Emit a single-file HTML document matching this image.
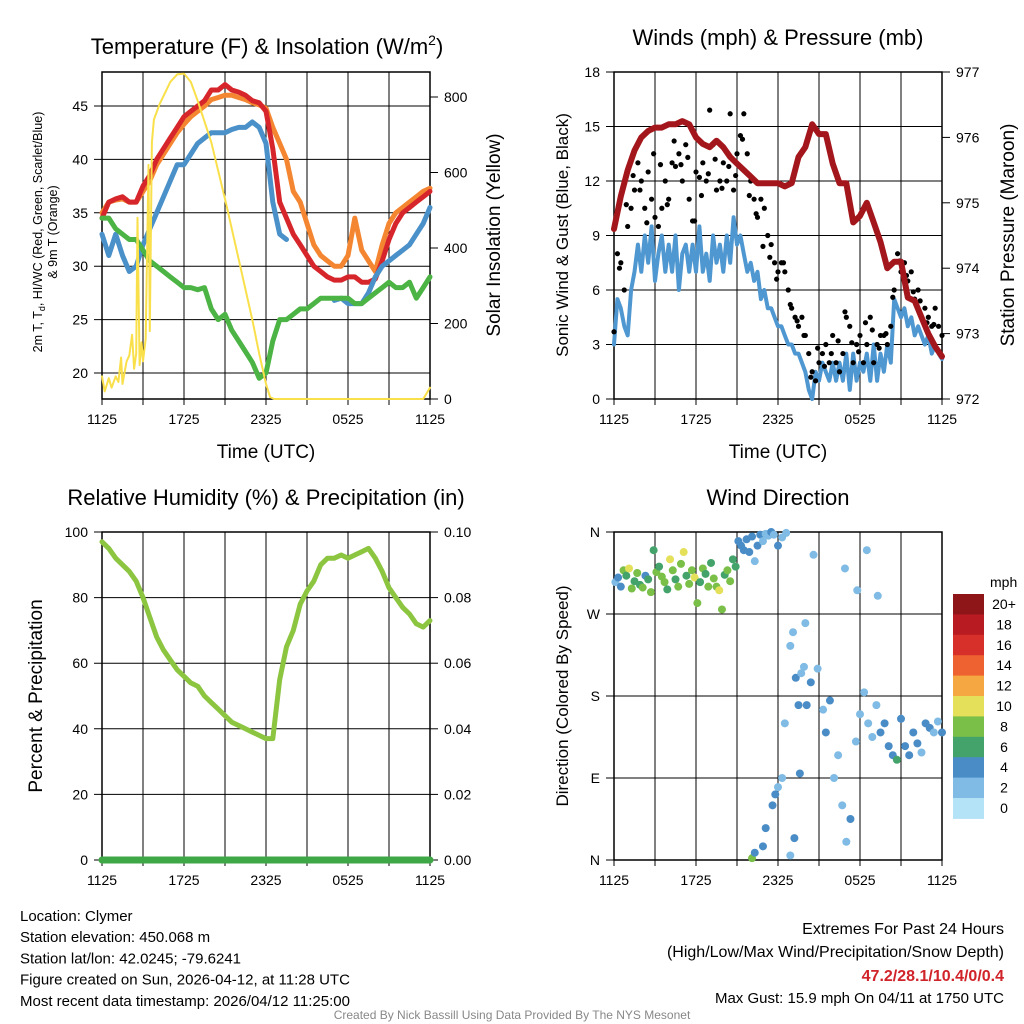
<!DOCTYPE html>
<html><head><meta charset="utf-8">
<style>
html,body{margin:0;padding:0;background:#fff;}
svg{display:block;font-family:"Liberation Sans",sans-serif;}
</style></head>
<body>
<svg id="c" width="1024" height="1024" viewBox="0 0 1024 1024"></svg>
<script>
// ---------- data ----------
const xTickLabels = ["1125","1725","2325","0525","1125"];
const hrs = []; for (let i = 0; i <= 48; i++) hrs.push(i * 0.5);
const tempRed = [34.5,36,36.3,36.5,36,36,37.5,38.5,40,41,42,43,44,44.5,45,45.5,46.5,46.5,47,46.5,46.3,46,45.5,45.3,44.5,41,36,34.5,33,32,31,30,29.5,29,28.7,28.7,29,29,28.5,28.5,28.8,30.5,32.5,34,35,35.5,36,36.5,37];
const temp9m = [35,36,36.2,36.3,36,36,37,38,39.5,40.5,41.5,42.5,43.3,44,44.5,45,45.6,45.8,46,46,45.8,45.6,45.3,45.1,44.8,43,41.5,40,37,36,34,32,31,30.5,30,30,31,34.5,31.5,30.5,29.5,32,34,35,35.5,36,36.5,37,37.3];
const windChill = [33,31,33,31,29.5,30,32,33.5,35,36.5,38,39.5,39.5,40.5,41.5,42,42.5,42.5,42.5,42.8,43,43,43.5,43,41.5,36,33,32.5,null,null,null,null,null,null,26.8,27,26.5,26.5,26.5,27.5,29,30,30.5,31,31.5,32,33,34,35.5];
const dewPoint = [34.5,34.5,33.5,33,32.5,32.5,31.5,30.5,30,29.5,29,28.5,28,28,27.8,28,26,25,25.5,24,23,22,21,19.5,20,23,25,25,25.5,26,26,26.5,27,27,27,27,27,26.5,26.5,27,27.5,28,28.5,28,28,28.5,27,28,29];
const solarHours = [0,0.2,0.5,0.7,1,1.2,1.4,1.5,1.8,2,2.2,2.35,2.5,2.6,2.75,2.9,3,3.2,3.4,3.5,3.65,3.8,4.2,5,5.5,6,6.5,7,8,9,10,11,11.5,12,12.3,12.6,22.5,23.5,24];
const solarVals = [60,20,55,30,60,45,110,40,100,115,170,80,120,480,90,150,100,160,620,180,680,740,780,840,860,862,840,790,680,530,370,210,120,40,5,0,0,0,30];

const qh = []; for (let i = 0; i <= 96; i++) qh.push(i * 0.25);
const sonicWind = [3,5.5,5,4,3.5,6,7,8.5,7,9,7.5,9.5,6.5,8,9,7,8.5,7,9,6,8,8.5,7,8.5,7,9.5,7,8,6.5,9,7.5,8.5,7,9,7.5,10,8.5,9,8,7,7.5,6.5,7,5.5,6,5,5,4.5,4,4,3.5,3,3,2.5,2.5,2,1.5,0.5,0,1.5,1,2,1.5,1,2,1,2,1,2.5,0.5,2.5,1,2,1.5,2.5,1,3,1,2.5,1.5,3,2,5.5,5,4.5,5,4,4.5,3.5,4,3.5,3,3.5,2.5,3,2.5,2.2];
const gust = [3.7,8,7.5,6,9.5,10.5,11.5,13,12,10.5,12.5,11,10,9.5,10.5,12,11,13,12.8,13.5,12,14,11,9.8,12.5,12.2,13,12,15.9,14,11.5,12,13,12,15.7,11.5,13.5,14.5,15.7,13.5,12,11,10,11,10.5,9,8.5,7.5,7,7.5,7,6,5,4.5,4,4.5,3.5,2.5,1.5,1,2,2.5,3,2,3.5,2,1.5,2.5,4.5,4,2,3,3.5,2,3,4.5,2,3,3.5,3.5,3,4,6,8,7,7.5,6.5,7,5.5,6,4.5,5,4.5,4,5,4,3.5];
const gustHours2 = [0.4,0.9,1.4,1.9,2.4,2.9,3.4,3.9,4.4,4.9,5.4,5.9,6.4,6.9,7.4,7.9,8.4,8.9,9.4,9.9,10.4,10.9,11.4,11.9,12.4,12.9,13.4,13.9,14.4,14.9,15.4,15.9,16.4,16.9,17.4,17.9,18.4,18.9,19.4,19.9,20.4,20.9,21.4,21.9,22.4,22.9,23.4];
const gust2 = [7.2,10.7,12.3,11.5,9.7,13.5,12.9,10.7,14.2,12.9,13.3,9.8,11.2,12.4,13.2,11.6,12.8,12.3,14.3,11.2,10.2,8.4,7.8,6.6,7.5,5.2,4.3,3.5,1.2,2.8,1.8,2.5,3.2,4.8,3.1,2.6,4.2,3.8,2.8,3.6,5.6,7.6,6.8,5.9,5.4,4.2,4.1];
const pressure = [974.6,975.1,975.5,975.8,976,976.1,976.15,976.15,976.2,976.2,976.25,976.2,976.0,975.9,975.85,975.95,975.85,975.7,975.6,975.5,975.4,975.3,975.3,975.3,975.3,975.25,975.3,975.7,975.85,976.2,976.05,976.05,975.6,975.3,975.3,974.7,974.8,975.0,974.7,974.4,974.0,974.1,974.1,973.55,973.5,973.25,973.0,972.8,972.65];

const relHum = [97,95,92,90,88,85,80,74,68,64,61,58,56,54,53,50,48,46,44,42,41,40,39,38,37,37,55,65,70,78,82,85,90,92,92,93,92,93,94,95,92,88,83,80,77,75,72,71,73];
const precip = [0,0,0,0,0,0,0,0,0,0,0,0,0,0,0,0,0,0,0,0,0,0,0,0,0,0,0,0,0,0,0,0,0,0,0,0,0,0,0,0,0,0,0,0,0,0,0,0,0];

const dirHours = [0.1,0.3,0.5,0.7,0.9,1.1,1.3,1.5,1.7,1.9,2.1,2.3,2.5,2.7,2.9,3.1,3.3,3.5,3.7,3.9,4.1,4.3,4.5,4.7,4.9,5.1,5.3,5.5,5.7,5.9,6.1,6.3,6.5,6.7,6.9,7.1,7.3,7.5,7.7,7.9,8.1,8.3,8.5,8.7,8.9,9.1,9.3,9.5,9.7,9.9,10.1,10.3,10.5,10.7,10.9,11.1,11.3,11.5,11.7,12.0,12.3,12.6,10.1,10.3,10.9,11.1,11.6,11.8,12.0,12.3,12.5,12.9,13.1,13.3,13.5,13.7,13.9,14.1,14.4,14.6,14.9,15.3,15.5,15.8,16.1,16.4,16.7,17.0,17.3,17.7,18.0,18.3,18.6,18.9,19.2,19.5,19.8,20.1,20.4,20.7,21.0,21.3,21.6,21.9,22.2,22.5,22.8,23.1,23.4,23.7,24.0,13.2,14.0,16.9,17.8,18.5,19.3,12.9,13.6];
const dirVals = [305,310,300,318,312,320,298,306,315,302,299,312,308,294,340,316,322,311,305,297,330,318,308,300,325,338,312,303,318,310,282,305,320,314,300,326,309,300,296,275,313,318,306,330,322,350,345,340,352,338,355,328,345,357,350,358,356,360,357,345,354,359,2,8,15,35,60,72,80,90,150,235,250,200,170,205,212,170,195,335,210,165,140,175,90,115,60,20,45,130,160,184,150,135,170,140,150,125,115,110,155,125,115,140,128,118,150,145,140,152,140,24,260,320,296,340,290,5,95];
const dirSpeed = [2,3,4,7,6,9,7,6,8,6,7,3,5,8,6,7,6,8,7,6,9,7,6,7,8,9,6,7,8,10,8,6,7,6,7,6,8,7,10,7,6,8,7,6,5,3,3,4,4,3,3,2,3,3,2,2,2,3,2,3,2,1,7,4,4,4,3,3,2,2,1,1,2,3,3,1,2,3,3,1,2,2,3,3,1,1,1,2,3,2,1,1,2,2,2,3,3,3,4,6,4,3,4,3,3,2,3,3,2,2,3,3,2,1,1,1,1,1,3,4,3];
const speedLabels = ["20+","18","16","14","12","10","8","6","4","2","0"];
const speedColors = ["#8e1518","#b81b22","#d7302a","#ee6130","#f5a742","#e5e05a","#7abf48","#44a36a","#4a8cc6","#7fbbe4","#b4e2f6"];

// ---------- helpers ----------
const NS = "http://www.w3.org/2000/svg";
const svg = document.getElementById("c");
function mk(tag, attrs, parent, txt) {
  const e = document.createElementNS(NS, tag);
  for (const k in attrs) e.setAttribute(k, attrs[k]);
  if (txt !== undefined) e.textContent = txt;
  (parent || svg).appendChild(e);
  return e;
}
function linScale(d0, d1, r0, r1) { return v => r0 + (v - d0) / (d1 - d0) * (r1 - r0); }

function panel(name, x0, y0, x1, y1) {
  const g = mk("g", {});
  
  
  return { g, x0, y0, x1, y1, sx: linScale(0, 24, x0, x1) };
}
function grid(p, yTicks, ys, labels, rightTicks, ysR, rightLabels) {
  const gg = mk("g", {}, p.g);
  
  
  for (let h = 0; h <= 24; h += 3) {
    const x = p.sx(h);
    mk("line", { x1: x, y1: p.y0, x2: x, y2: p.y1 + 6, stroke: "#000", "stroke-width": 1 }, gg);
  }
  yTicks.forEach((v, i) => {
    const y = ys(v);
    mk("line", { x1: p.x0 - 8, y1: y, x2: p.x1, y2: y, stroke: "#000", "stroke-width": 1 }, gg);
    const t = mk("text", { x: p.x0 - 14, y: y + 5, "font-size": 14, "text-anchor": "end" }, gg, labels[i]);
    
    
  });
  if (rightTicks) rightTicks.forEach((v, i) => {
    const y = ysR(v);
    mk("line", { x1: p.x1, y1: y, x2: p.x1 + 8, y2: y, stroke: "#000", "stroke-width": 1 }, gg);
    const t = mk("text", { x: p.x1 + 14, y: y + 5, "font-size": 14 }, gg, rightLabels[i]);
    
    
  });
  xTickLabels.forEach((l, i) => {
    const t = mk("text", { x: p.sx(i * 6), y: p.y1 + 25, "font-size": 14, "text-anchor": "middle" }, gg, l);
    
    
  });
  mk("rect", { x: p.x0, y: p.y0, width: p.x1 - p.x0, height: p.y1 - p.y0, fill: "none", stroke: "#000", "stroke-width": 1.5 }, gg);
}
function line(p, xs, vals, sy, color, w, name) {
  let d = "", pen = false;
  vals.forEach((v, i) => {
    if (v === null) { pen = false; return; }
    d += (pen ? "L" : "M") + p.sx(xs[i]).toFixed(1) + "," + sy(v).toFixed(1);
    pen = true;
  });
  const e = mk("path", { d, fill: "none", stroke: color, "stroke-width": w, "stroke-linejoin": "round", "stroke-linecap": "round" }, p.g);
  
  
  return e;
}
function txt(x, y, s, size, name, extra) {
  const a = Object.assign({ x, y, "font-size": size }, extra || {});
  const t = mk("text", a, svg, s);
  
  
  return t;
}

// ---------- panel 1 ----------
const p1 = panel("temperature-panel", 102, 72, 430, 399);
const y1 = linScale(20, 45, 373, 106);
const y1r = linScale(0, 800, 399, 97);
grid(p1, [20,25,30,35,40,45], y1, ["20","25","30","35","40","45"], [0,200,400,600,800], y1r, ["0","200","400","600","800"]);
line(p1, hrs, temp9m, y1, "#f58631", 5, "orange-9m-temp-line");
line(p1, hrs, tempRed, y1, "#d7262b", 5, "red-2m-temp-line");
line(p1, hrs, windChill, y1, "#4a90c9", 5, "blue-windchill-line");
line(p1, hrs, dewPoint, y1, "#4cb444", 5, "green-dewpoint-line");
line(p1, solarHours, solarVals, y1r, "#f9e04b", 2, "yellow-insolation-line");
const t1 = txt(267, 54, "Temperature (F) & Insolation (W/m", 22, "temp-panel-title", { "text-anchor": "middle" });
mk("tspan", { dy: -9, "font-size": 14 }, t1, "2");
mk("tspan", { dy: 9 }, t1, ")");
txt(266, 458, "Time (UTC)", 19, "x-axis-title", { "text-anchor": "middle" });
const ya = txt(0, 0, "2m T, T", 12.5, "temp-y-axis-title", { transform: "translate(42,232) rotate(-90)", "text-anchor": "middle" });
mk("tspan", { dy: 3, "font-size": 9 }, ya, "d");
mk("tspan", { dy: -3 }, ya, ", HI/WC (Red, Green, Scarlet/Blue)");
txt(0, 0, "& 9m T (Orange)", 12.5, "temp-y-axis-title2", { transform: "translate(57,232) rotate(-90)", "text-anchor": "middle" });
txt(0, 0, "Solar Insolation (Yellow)", 19, "solar-axis-title", { transform: "translate(500,235) rotate(-90)", "text-anchor": "middle" });

// ---------- panel 2 ----------
const p2 = panel("winds-panel", 614, 72, 942, 399);
const y2 = linScale(0, 18, 399, 72);
const y2r = linScale(972, 977, 399, 72);
grid(p2, [0,3,6,9,12,15,18], y2, ["0","3","6","9","12","15","18"], [972,973,974,975,976,977], y2r, ["972","973","974","975","976","977"]);
line(p2, qh, sonicWind, y2, "#4f97d1", 4, "sonic-wind-line");
gust.forEach((v, i) => {
  const c = mk("circle", { cx: p2.sx(qh[i]), cy: y2(v), r: 2.6, fill: "#000" }, p2.g);
  
  
});
gust2.forEach((v, i) => {
  const c = mk("circle", { cx: p2.sx(gustHours2[i]), cy: y2(v), r: 2.6, fill: "#000" }, p2.g);
  
  
});
line(p2, hrs, pressure, y2r, "#a3171c", 6, "pressure-line");
txt(778, 45, "Winds (mph) & Pressure (mb)", 22, "winds-panel-title", { "text-anchor": "middle" });
txt(778, 458, "Time (UTC)", 19, "x-axis-title-2", { "text-anchor": "middle" });
txt(0, 0, "Sonic Wind & Gust (Blue, Black)", 17, "wind-y-axis-title", { transform: "translate(568,235) rotate(-90)", "text-anchor": "middle" });
txt(0, 0, "Station Pressure (Maroon)", 19, "pressure-axis-title", { transform: "translate(1014,235) rotate(-90)", "text-anchor": "middle" });

// ---------- panel 3 ----------
const p3 = panel("humidity-panel", 102, 532, 430, 860);
const y3 = linScale(0, 100, 860, 532);
const y3r = linScale(0, 0.1, 860, 532);
grid(p3, [0,20,40,60,80,100], y3, ["0","20","40","60","80","100"], [0,0.02,0.04,0.06,0.08,0.1], y3r, ["0.00","0.02","0.04","0.06","0.08","0.10"]);
line(p3, hrs, relHum, y3, "#8cc540", 5, "humidity-line");
line(p3, hrs, precip, y3r, "#3fa846", 7, "precipitation-line");
txt(266, 505, "Relative Humidity (%) & Precipitation (in)", 22, "humidity-panel-title", { "text-anchor": "middle" });
txt(0, 0, "Percent & Precipitation", 19, "humidity-y-axis-title", { transform: "translate(42,696) rotate(-90)", "text-anchor": "middle" });

// ---------- panel 4 ----------
const p4 = panel("wind-direction-panel", 614, 532, 942, 860);
const y4 = linScale(0, 360, 860, 532);
grid(p4, [0,90,180,270,360], y4, ["N","E","S","W","N"]);
dirVals.forEach((d, i) => {
  const idx = Math.min(10, Math.round(dirSpeed[i] / 2));
  const c = mk("circle", { cx: p4.sx(dirHours[i]), cy: y4(d), r: 4, fill: speedColors[10 - idx] }, p4.g);
  
  
});
txt(778, 505, "Wind Direction", 22, "wind-direction-title", { "text-anchor": "middle" });
txt(0, 0, "Direction (Colored By Speed)", 17, "direction-y-axis-title", { transform: "translate(568,696) rotate(-90)", "text-anchor": "middle" });
const cb = mk("g", {});


speedColors.forEach((col, i) => {
  const y = 594 + i * 20.4;
  const r = mk("rect", { x: 953, y, width: 31, height: 20.9, fill: col }, cb);
  
  
  const t = mk("text", { x: 1004, y: y + 15, "font-size": 14, "text-anchor": "middle" }, cb, speedLabels[i]);
  
  
});
txt(990, 587, "mph", 14, "colorbar-title");

// ---------- footer ----------
const info = ["Location: Clymer","Station elevation: 450.068 m","Station lat/lon: 42.0245; -79.6241","Figure created on Sun, 2026-04-12, at 11:28 UTC","Most recent data timestamp: 2026/04/12 11:25:00"];
info.forEach((s, i) => txt(20, 921 + i * 21.2, s, 15, "station-info-line"));
txt(1004, 934, "Extremes For Past 24 Hours", 16, "extremes-title", { "text-anchor": "end" });
txt(1004, 957, "(High/Low/Max Wind/Precipitation/Snow Depth)", 16, "extremes-subtitle", { "text-anchor": "end" });
txt(1004, 981, "47.2/28.1/10.4/0/0.4", 16, "extremes-values", { "text-anchor": "end", fill: "#d0232a", "font-weight": "bold" });
txt(1004, 1003, "Max Gust: 15.9 mph On 04/11 at 1750 UTC", 15, "max-gust", { "text-anchor": "end" });
txt(512, 1019, "Created By Nick Bassill Using Data Provided By The NYS Mesonet", 12, "credit-line", { "text-anchor": "middle", fill: "#888" });
</script>
</body></html>
